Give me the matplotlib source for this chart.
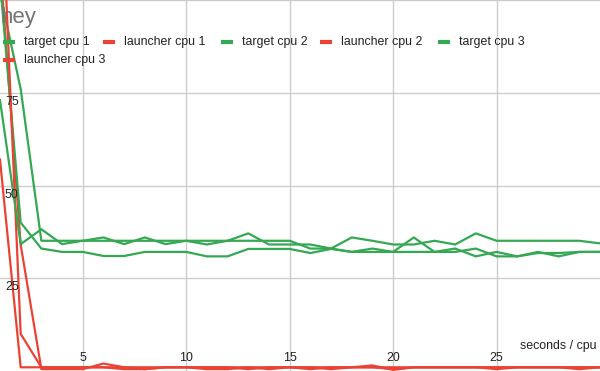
import matplotlib
matplotlib.use('Agg')
import matplotlib.pyplot as plt

plt.rcParams['font.family'] = ['Liberation Sans', 'DejaVu Sans']

seconds = list(range(1, 31))

target_cpu_1 = [102, 76, 35.1, 35.1, 35.1, 35.1, 35.1, 35.1, 35.1, 35.1,
                35.1, 35.1, 35.1, 35.1, 35.1, 33.0, 33.0, 32.1, 32.1, 32.1,
                32.1, 32.1, 32.1, 33.0, 30.9, 30.9, 31.8, 31.8, 32.1, 32.1]
target_cpu_2 = [105, 40, 33.0, 32.1, 32.1, 31.0, 31.0, 32.1, 32.1, 32.1,
                30.9, 30.9, 32.9, 32.9, 32.9, 31.8, 32.9, 32.1, 33.0, 32.1,
                36.0, 32.1, 33.0, 30.9, 32.1, 30.9, 32.1, 30.9, 32.1, 32.1]
target_cpu_3 = [73, 34.2, 38.2, 34.2, 35.1, 36.0, 34.2, 36.0, 34.2, 35.1,
                34.1, 35.1, 37.1, 34.1, 34.1, 34.1, 33.0, 36.0, 35.1, 34.1,
                34.1, 35.1, 34.1, 37.1, 35.1, 35.1, 35.1, 35.1, 35.1, 34.4]

launcher_cpu_1 = [110, 34, 0.5, 0.5, 0.5, 2, 1, 0.5, 1, 1,
                  0.5, 0.5, 1, 0.5, 1, 0.5, 1, 1, 1, 0.5,
                  1, 1, 1, 1, 0.5, 1, 1, 1, 1, 1]
launcher_cpu_2 = [140, 10, 1, 1, 1, 1, 0.5, 0.5, 1, 1,
                  1, 1, 0.5, 1, 1, 1, 0.5, 1, 1.5, 0.3,
                  1, 1, 1, 1, 1, 1, 1, 1, 0.5, 1]
launcher_cpu_3 = [57, 1, 1, 1, 1, 1, 1, 1, 1, 1,
                  1, 1, 1, 1, 1, 1, 1, 1, 1, 1,
                  1, 1, 1, 1, 1, 1, 1, 1, 1, 1]

xticks = [5, 10, 15, 20, 25]
yticks = [25, 50, 75]

GREEN = '#34a853'
RED = '#ea4335'

series = [('target cpu 1', target_cpu_1, GREEN),
          ('launcher cpu 1', launcher_cpu_1, RED),
          ('target cpu 2', target_cpu_2, GREEN),
          ('launcher cpu 2', launcher_cpu_2, RED),
          ('target cpu 3', target_cpu_3, GREEN),
          ('launcher cpu 3', launcher_cpu_3, RED)]

fig = plt.figure(figsize=(6, 3.71), dpi=100)
ax = fig.add_axes([0, 0, 1, 1])
ax.set_xlim(1, 30)
ax.set_ylim(0, 100)
for s in ax.spines.values():
    s.set_visible(False)
ax.set_xticks(xticks)
ax.set_yticks(yticks + [100])
ax.tick_params(length=0, labelleft=False, labelbottom=False)
ax.grid(color='#cccccc', lw=1)
ax.set_axisbelow(True)

for name, vals, col in series:
    ax.plot(seconds, vals, color=col, lw=1.6, label=name)

FS = 8.9
# tick labels drawn inside the plot
for t in xticks:
    ax.annotate(str(t), xy=(t, 0), xytext=(0, 13), textcoords='offset pixels',
                ha='center', va='center', fontsize=FS, color='#222222')
for t in yticks:
    ax.annotate(str(t), xy=(1, t), xytext=(5, -9), textcoords='offset pixels',
                ha='left', va='center', fontsize=FS, color='#222222')

ax.annotate('seconds / cpu', xy=(1, 0), xycoords='axes fraction',
            xytext=(-3, 25), textcoords='offset pixels',
            ha='right', va='center', fontsize=FS, color='#222222')

# title
fig.text(1 / 600, 1 - 17 / 371, 'hey', fontsize=16, color='#757575',
         ha='left', va='center')

# legend, laid out by hand (row-major like the original)
leg_pos = [(3, 42), (103, 42), (221, 42), (320, 42), (438, 42), (3, 60)]
for (name, vals, col), (px, py) in zip(series, leg_pos):
    y = 1 - py / 371
    fig.add_artist(plt.Line2D([px / 600, (px + 12) / 600], [y, y],
                              color=col, lw=3, solid_capstyle='butt'))
    fig.text((px + 21) / 600, y, name, fontsize=FS, color='#222222',
             ha='left', va='center')

fig.savefig('out.png', dpi=100)
